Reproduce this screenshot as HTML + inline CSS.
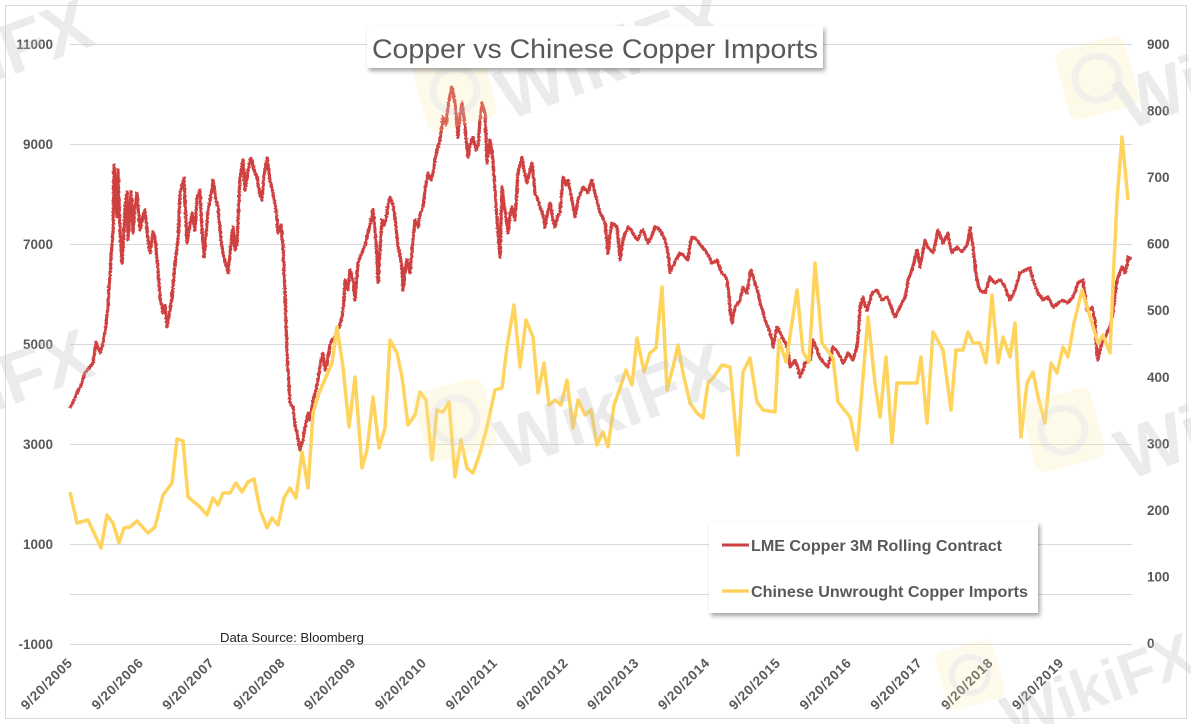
<!DOCTYPE html>
<html><head><meta charset="utf-8"><style>
html,body{margin:0;padding:0;background:#fff;}
svg{display:block;}
text{font-family:"Liberation Sans",Arial,sans-serif;}
</style></head><body>
<svg width="1191" height="724" viewBox="0 0 1191 724" xmlns="http://www.w3.org/2000/svg">
<defs>
<filter id="sh" x="-10%" y="-20%" width="130%" height="160%">
<feDropShadow dx="2" dy="3" stdDeviation="2" flood-color="#000" flood-opacity="0.35"/>
</filter>
<filter id="rough" x="-2%" y="-5%" width="104%" height="110%">
<feTurbulence type="fractalNoise" baseFrequency="0.6" numOctaves="1" seed="3" result="n"/>
<feDisplacementMap in="SourceGraphic" in2="n" scale="3" xChannelSelector="R" yChannelSelector="G"/>
</filter>
</defs>
<rect x="0" y="0" width="1191" height="724" fill="#fff"/>
<rect x="5.5" y="5.5" width="1181" height="713" fill="#fff" stroke="#d9d9d9" stroke-width="1"/>

<!-- gridlines -->
<g stroke="#d9d9d9" stroke-width="1">
<line x1="70" y1="44.5" x2="1132" y2="44.5"/>
<line x1="70" y1="144.5" x2="1132" y2="144.5"/>
<line x1="70" y1="244.5" x2="1132" y2="244.5"/>
<line x1="70" y1="344.5" x2="1132" y2="344.5"/>
<line x1="70" y1="444.5" x2="1132" y2="444.5"/>
<line x1="70" y1="544.5" x2="1132" y2="544.5"/>
<line x1="70" y1="594.5" x2="1132" y2="594.5"/>
<line x1="70" y1="644.5" x2="1132" y2="644.5"/>
</g>

<!-- left axis labels -->
<g font-size="13.5" font-weight="bold" fill="#595959" text-anchor="end">
<text x="53" y="49">11000</text>
<text x="53" y="149">9000</text>
<text x="53" y="249">7000</text>
<text x="53" y="349">5000</text>
<text x="53" y="449">3000</text>
<text x="53" y="549">1000</text>
<text x="53" y="649">-1000</text>
</g>
<!-- right axis labels -->
<g font-size="13.5" font-weight="bold" fill="#595959" text-anchor="start">
<text x="1147" y="49">900</text>
<text x="1147" y="115.6">800</text>
<text x="1147" y="182.1">700</text>
<text x="1147" y="248.7">600</text>
<text x="1147" y="315.2">500</text>
<text x="1147" y="381.8">400</text>
<text x="1147" y="448.4">300</text>
<text x="1147" y="514.9">200</text>
<text x="1147" y="581.5">100</text>
<text x="1147" y="648">0</text>
</g>

<!-- x axis labels -->
<g font-size="13.5" font-weight="bold" fill="#595959" text-anchor="end">
<text transform="translate(73,664) rotate(-45)" textLength="66">9/20/2005</text>
<text transform="translate(143.8,664) rotate(-45)" textLength="66">9/20/2006</text>
<text transform="translate(214.6,664) rotate(-45)" textLength="66">9/20/2007</text>
<text transform="translate(285.4,664) rotate(-45)" textLength="66">9/20/2008</text>
<text transform="translate(356.2,664) rotate(-45)" textLength="66">9/20/2009</text>
<text transform="translate(427,664) rotate(-45)" textLength="66">9/20/2010</text>
<text transform="translate(497.8,664) rotate(-45)" textLength="66">9/20/2011</text>
<text transform="translate(568.6,664) rotate(-45)" textLength="66">9/20/2012</text>
<text transform="translate(639.4,664) rotate(-45)" textLength="66">9/20/2013</text>
<text transform="translate(710.2,664) rotate(-45)" textLength="66">9/20/2014</text>
<text transform="translate(781,664) rotate(-45)" textLength="66">9/20/2015</text>
<text transform="translate(851.8,664) rotate(-45)" textLength="66">9/20/2016</text>
<text transform="translate(922.6,664) rotate(-45)" textLength="66">9/20/2017</text>
<text transform="translate(993.4,664) rotate(-45)" textLength="66">9/20/2018</text>
<text transform="translate(1064.2,664) rotate(-45)" textLength="66">9/20/2019</text>
</g>

<!-- red series -->
<polyline filter="url(#rough)" fill="none" stroke="#CF4040" stroke-width="3.2" stroke-linejoin="round" points="70,408 74,400 77,393 81,385 85,373 89,368 93,363 96,342 100,353 103,343 106,325 108,307 111,257 113,230 114,165 116,200 117,217 118,170 120,230 122,263 124,230 125,210 127,192 128,240 131,192 133,233 135,205 137,193 140,230 143,215 145,210 148,240 150,253 153,232 155,237 158,270 160,297 163,313 165,305 167,327 170,310 172,297 175,263 178,240 180,193 184,178 187,243 190,225 192,213 195,230 197,197 200,190 202,230 204,257 206,235 208,210 211,195 213,180 216,200 218,207 221,240 223,253 226,265 228,273 231,245 233,227 235,250 237,243 240,177 243,160 245,190 247,177 249,165 251,158 254,170 257,177 260,195 262,200 264,175 267,158 270,180 273,193 276,210 278,233 281,225 283,247 285,293 287,353 290,403 293,407 295,425 297,433 300,450 303,440 305,427 308,413 310,420 313,400 316,390 318,380 321,360 323,353 325,370 327,363 330,345 332,340 335,338 337,330 340,325 342,317 344,300 345,280 348,290 350,270 353,280 355,300 358,263 361,255 363,250 365,245 367,237 370,225 373,210 376,240 378,282 380,250 382,220 384,225 386,220 388,205 390,197 393,205 395,217 398,247 400,255 402,267 403,290 405,270 407,260 410,273 413,240 415,220 418,227 420,215 423,207 425,190 428,173 431,180 433,173 435,160 437,150 440,140 442,125 443,117 446,125 448,107 450,95 452,87 455,103 457,125 458,137 460,115 462,103 464,118 465,127 468,157 470,145 473,137 476,150 478,147 480,120 482,103 485,113 487,163 490,140 493,160 495,190 497,220 500,257 502,187 505,210 508,233 510,215 512,207 515,220 518,173 520,165 522,157 525,175 527,183 530,170 532,163 535,193 538,200 540,207 543,215 545,227 548,210 550,203 553,220 555,227 558,215 560,213 563,177 566,185 568,180 570,190 572,200 575,217 578,200 580,195 583,187 586,190 588,193 590,185 592,180 595,193 598,205 600,213 603,218 605,223 608,253 610,235 612,223 615,225 617,227 620,260 623,240 626,232 628,227 631,230 633,233 636,238 638,240 641,232 643,230 646,238 648,243 652,235 655,227 658,228 660,230 663,236 665,240 668,253 670,272 673,266 675,262 678,256 680,253 683,255 685,257 688,260 690,245 692,237 695,238 697,240 700,244 702,247 705,250 707,253 710,258 712,263 715,262 717,260 720,268 722,273 725,276 727,280 729,295 730,310 732,323 735,307 738,303 740,300 743,287 745,290 747,293 749,280 751,270 753,276 755,283 758,293 760,303 763,312 765,320 768,327 770,333 772,340 773,347 775,337 777,327 780,332 782,337 785,342 787,347 789,357 790,367 793,363 795,360 798,368 800,377 803,370 805,363 808,361 810,360 812,350 813,340 816,347 818,353 820,358 823,362 826,365 828,367 831,355 833,347 836,350 838,353 841,358 843,363 846,358 848,353 851,357 853,360 855,353 857,347 859,325 860,307 862,300 863,297 865,305 867,310 870,300 872,293 875,291 877,290 880,296 882,300 885,298 887,297 890,304 892,310 895,317 898,311 900,307 903,301 905,297 907,288 908,280 910,275 912,270 915,258 917,250 919,260 920,267 923,252 925,240 927,245 928,247 931,251 933,253 936,240 938,230 941,238 943,243 946,237 948,233 950,245 952,253 955,249 957,247 960,250 962,252 965,248 967,245 969,235 970,228 972,240 973,247 975,265 977,280 979,287 980,290 983,292 985,293 988,283 990,277 993,281 995,283 998,281 1000,280 1003,284 1005,287 1008,295 1010,300 1013,294 1015,290 1018,280 1020,273 1023,271 1025,270 1028,269 1030,268 1033,280 1036,288 1038,293 1041,297 1043,300 1046,298 1048,297 1051,303 1053,307 1056,305 1058,303 1061,301 1063,300 1066,302 1068,303 1071,299 1073,297 1076,289 1078,283 1081,281 1083,280 1085,295 1087,310 1090,309 1092,307 1094,315 1095,320 1096,340 1097,353 1098,360 1100,350 1102,343 1105,338 1107,333 1109,329 1110,327 1112,318 1113,313 1115,295 1117,280 1120,272 1122,267 1124,270 1125,273 1127,265 1128,257 1130,258 1131,260"/>

<!-- yellow series -->
<polyline fill="none" stroke="#FFD45E" stroke-width="3.5" stroke-linejoin="round" points="70,492 77,523 88,520 95,535 101,548 107,515 113,523 119,543 124,528 130,527 137,521 148,533 155,527 163,495 172,483 177,439 183,441 188,497 200,507 207,515 213,498 218,505 223,493 230,493 236,483 242,492 248,482 254,479 260,510 267,528 272,518 278,525 284,498 290,488 296,498 302,452 308,488 313,413 319,393 326,377 332,363 337,327 343,367 349,427 355,377 362,468 367,450 373,397 379,448 385,428 390,340 397,353 402,377 408,425 415,415 420,392 426,400 432,460 437,410 443,412 449,402 455,477 461,440 467,468 473,473 480,453 487,427 495,390 502,388 507,347 514,305 520,367 526,320 533,337 538,393 544,363 549,405 555,400 561,405 567,380 573,428 578,400 585,415 591,410 597,445 603,432 608,447 614,405 620,388 626,370 632,385 637,338 644,372 650,353 656,348 662,287 667,390 673,367 678,345 683,373 690,403 697,413 703,418 708,383 713,378 722,365 730,367 738,455 743,372 750,358 757,402 763,410 775,412 779,340 786,362 797,290 803,352 809,362 815,263 822,343 833,358 838,402 850,417 857,450 868,317 875,383 880,417 886,357 892,443 897,383 917,383 921,357 927,423 933,332 943,350 951,410 956,350 963,350 968,332 973,343 980,343 986,363 992,295 998,363 1003,337 1010,357 1015,323 1021,437 1027,383 1033,372 1038,397 1045,423 1051,363 1057,373 1063,347 1068,357 1074,323 1082,290 1088,310 1098,343 1103,335 1110,353 1113,283 1117,200 1122,137 1128,200"/>

<!-- watermarks -->
<g opacity="0.4">
<g transform="translate(455,90) rotate(-15)"><rect x="-36" y="-36" width="72" height="72" rx="10" fill="#fbe9a8" opacity="0.6"/><circle r="22" fill="none" stroke="#d0d0d0" stroke-width="7" opacity="0.7"/></g>
<g transform="translate(455,420) rotate(-15)"><rect x="-36" y="-36" width="72" height="72" rx="10" fill="#fbe9a8" opacity="0.6"/><circle r="22" fill="none" stroke="#d0d0d0" stroke-width="7" opacity="0.7"/></g>
<g transform="translate(1097,78) rotate(-15)"><rect x="-36" y="-36" width="72" height="72" rx="10" fill="#fbe9a8" opacity="0.6"/><circle r="22" fill="none" stroke="#d0d0d0" stroke-width="7" opacity="0.7"/></g>
<g transform="translate(1063,430) rotate(-15)"><rect x="-36" y="-36" width="72" height="72" rx="10" fill="#fbe9a8" opacity="0.6"/><circle r="22" fill="none" stroke="#d0d0d0" stroke-width="7" opacity="0.7"/></g>
<g transform="translate(970,675) rotate(-15)"><rect x="-30" y="-30" width="60" height="60" rx="8" fill="#fbe9a8" opacity="0.5"/><circle r="18" fill="none" stroke="#d0d0d0" stroke-width="6" opacity="0.7"/></g>
<g font-size="72" font-weight="bold" fill="#c4c4c4" text-anchor="middle" opacity="0.8">
<text transform="translate(-15,85) rotate(-20)">WikiFX</text>
<text transform="translate(-15,415) rotate(-20)">WikiFX</text>
<text transform="translate(620,80) rotate(-20)">WikiFX</text>
<text transform="translate(620,430) rotate(-20)">WikiFX</text>
<text transform="translate(1240,90) rotate(-20)">WikiFX</text>
<text transform="translate(1240,440) rotate(-20)">WikiFX</text>
<text transform="translate(1105,705) rotate(-20)" font-size="60">WikiFX</text>
</g>
</g>

<!-- title -->
<rect x="367" y="26" width="456" height="42" fill="#fff" filter="url(#sh)"/>
<text x="595" y="58" font-size="27" fill="#595959" text-anchor="middle" textLength="446" lengthAdjust="spacingAndGlyphs">Copper vs Chinese Copper Imports</text>

<!-- legend -->
<rect x="709" y="522" width="329" height="91" fill="#fff" filter="url(#sh)"/>
<line x1="722" y1="545" x2="749" y2="545" stroke="#CF4040" stroke-width="3"/>
<line x1="722" y1="591" x2="749" y2="591" stroke="#FFD45E" stroke-width="3.5"/>
<g font-size="16" font-weight="bold" fill="#595959">
<text x="751" y="551" textLength="251" lengthAdjust="spacingAndGlyphs">LME Copper 3M Rolling Contract</text>
<text x="751" y="597" textLength="277" lengthAdjust="spacingAndGlyphs">Chinese Unwrought Copper Imports</text>
</g>

<!-- source -->
<text x="220" y="642" font-size="13" fill="#222" textLength="144" lengthAdjust="spacingAndGlyphs">Data Source: Bloomberg</text>
</svg>
</body></html>
